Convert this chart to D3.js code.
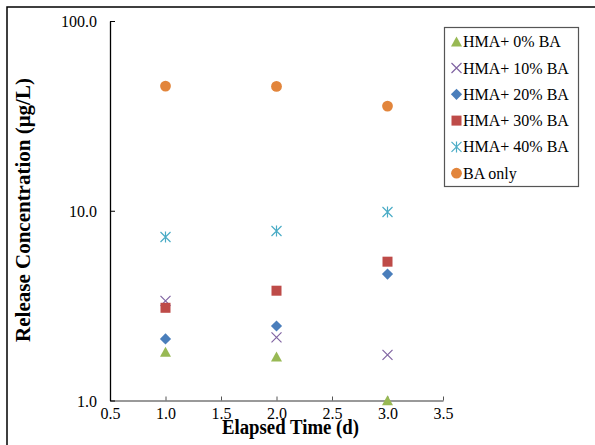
<!DOCTYPE html>
<html><head><meta charset="utf-8">
<script src="https://cdn.jsdelivr.net/npm/d3@7"></script>
<style>body{margin:0;background:#fff}svg{display:block}svg text{font-family:"Liberation Serif","Times New Roman",serif}</style>
</head><body>
<svg id="c" width="595" height="445"></svg>
<script>
const days = [1, 2, 3];
const seriesNames = ["HMA+ 0% BA", "HMA+ 10% BA", "HMA+ 20% BA", "HMA+ 30% BA", "HMA+ 40% BA", "BA only"];
const hma0 = [1.80, 1.70, 1.00];
const hma10 = [3.35, 2.15, 1.74];
const hma20 = [2.11, 2.47, 4.64];
const hma30 = [3.08, 3.79, 5.39];
const hma40 = [7.27, 7.82, 9.85];
const baOnly = [45.4, 45.2, 35.6];
const xTicks = [0.5, 1.0, 1.5, 2.0, 2.5, 3.0, 3.5];
const yTicks = [1, 10, 100];
const xTitle = "Elapsed Time (d)";
const yTitle = "Release Concentration (μg/L)";

const seriesValues = [hma0, hma10, hma20, hma30, hma40, baOnly];
const colors = ["#98B954", "#8064A2", "#4A7EBB", "#BE4B48", "#4BACC6", "#E2853B"];
const shapes = ["triangle", "x", "diamond", "square", "star", "circle"];

const svg = d3.select("#c");
const L = 110, R = 443, T = 21, B = 400.5;
const x = d3.scaleLinear().domain([0.5, 3.5]).range([L, R]);
const y = d3.scaleLog().domain([1, 100]).range([B, T]);

// outer frame
svg.append("rect").attr("x", 7).attr("y", 7).attr("width", 700).attr("height", 700)
  .attr("fill", "none").attr("stroke", "#000").attr("stroke-width", 1.5);

// x axis
const xa = svg.append("g").attr("transform", `translate(0,${B})`)
  .call(d3.axisBottom(x).tickValues(xTicks).tickSizeInner(-4).tickSizeOuter(0).tickPadding(6).tickFormat(d3.format(".1f")));
xa.select(".domain").attr("stroke", "#777").attr("stroke-width", 1.3);
xa.selectAll(".tick line").attr("stroke", "#555").attr("stroke-width", 1);
xa.selectAll(".tick text").attr("y", 18).attr("dy", null).attr("text-anchor", "middle")
  .style("font-size", "16px").style("fill", "#000");

// y axis
const ya = svg.append("g").attr("transform", `translate(${L},0)`)
  .call(d3.axisLeft(y).tickValues(yTicks).tickSizeInner(-5).tickSizeOuter(0).tickPadding(13).tickFormat(d3.format(".1f")));
ya.select(".domain").attr("stroke", "#000").attr("stroke-width", 1.3);
ya.selectAll(".tick line").attr("stroke", "#000").attr("stroke-width", 1);
ya.selectAll(".tick text").attr("x", -13).attr("dy", "0.35em").attr("text-anchor", "end")
  .style("font-size", "16px").style("fill", "#000");

// titles
svg.append("text").attr("x", 290.5).attr("y", 434).attr("text-anchor", "middle")
  .style("font-weight", "bold").style("font-size", "20px").attr("textLength", 137).attr("lengthAdjust", "spacingAndGlyphs")
  .text(xTitle);
svg.append("text").attr("transform", "translate(30,210) rotate(-90)").attr("text-anchor", "middle")
  .style("font-weight", "bold").style("font-size", "21px").text(yTitle);

function marker(g, shape, color) {
  if (shape === "triangle") g.append("path").attr("d", "M0,-5.2L5.5,4.8L-5.5,4.8Z").attr("fill", color);
  else if (shape === "diamond") g.append("path").attr("d", "M0,-5.6L5.6,0L0,5.6L-5.6,0Z").attr("fill", color);
  else if (shape === "square") g.append("rect").attr("x", -5).attr("y", -5).attr("width", 10).attr("height", 10).attr("fill", color);
  else if (shape === "circle") g.append("circle").attr("r", 5.4).attr("fill", color);
  else if (shape === "x") g.append("path").attr("d", "M-5,-5L5,5M-5,5L5,-5").attr("stroke", color).attr("stroke-width", 1.2).attr("fill", "none");
  else if (shape === "star") g.append("path").attr("d", "M-5,-5L5,5M-5,5L5,-5M0,-5.5L0,5.5").attr("stroke", color).attr("stroke-width", 1.2).attr("fill", "none");
}

seriesValues.forEach((vals, i) => {
  const g = svg.append("g");
  vals.forEach((v, j) => {
    const m = g.append("g").attr("transform", `translate(${x(days[j])},${y(v)})`);
    marker(m, shapes[i], colors[i]);
  });
});

// legend
const lg = svg.append("g");
lg.append("rect").attr("x", 444.5).attr("y", 27.5).attr("width", 134).attr("height", 159)
  .attr("fill", "#fff").attr("stroke", "#555").attr("stroke-width", 1.2);
seriesNames.forEach((n, i) => {
  const cy = 41.7 + i * 26.3;
  const m = lg.append("g").attr("transform", `translate(456.5,${cy})`);
  marker(m, shapes[i], colors[i]);
  lg.append("text").attr("x", 463).attr("y", cy + 5.5).style("font-size", "16px").text(n);
});
</script>
</body></html>
